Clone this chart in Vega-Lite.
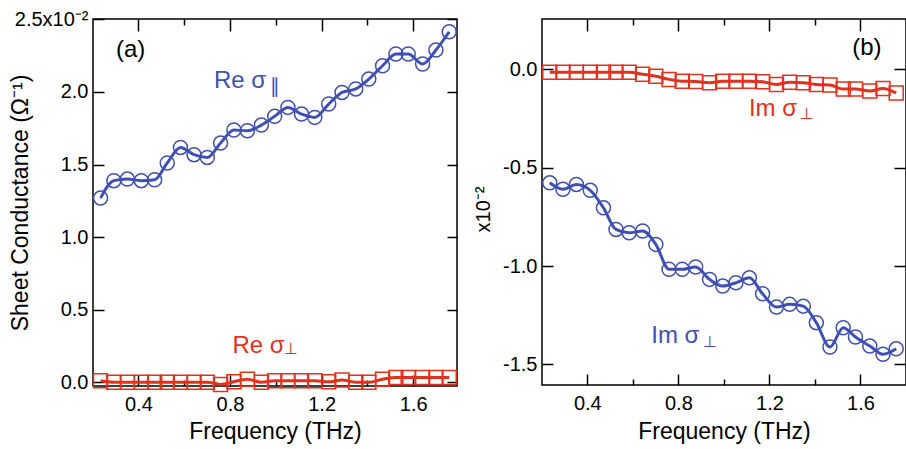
{
  "$schema": "https://vega.github.io/schema/vega-lite/v6.json",
  "background": "white",
  "autosize": {"type": "pad"},
  "padding": {"left": 8, "top": 8, "right": 0, "bottom": 0},
  "bounds": "flush",
  "spacing": 85,
  "config": {
    "view": {"stroke": "black", "strokeWidth": 1.5},
    "axis": {"domain": false, "grid": false, "labelFont": "Liberation Sans", "labelFontSize": 20, "labelColor": "black", "titleFont": "Liberation Sans", "titleFontSize": 23, "titleFontWeight": "normal", "titleColor": "black", "tickColor": "black", "tickWidth": 1.5}
  },
  "datasets": {
    "pts": [
      {"p": "a", "s": "par", "f": 0.235, "v": 1.269},
      {"p": "a", "s": "par", "f": 0.293, "v": 1.389},
      {"p": "a", "s": "par", "f": 0.352, "v": 1.400},
      {"p": "a", "s": "par", "f": 0.413, "v": 1.389},
      {"p": "a", "s": "par", "f": 0.471, "v": 1.395},
      {"p": "a", "s": "par", "f": 0.526, "v": 1.511},
      {"p": "a", "s": "par", "f": 0.584, "v": 1.618},
      {"p": "a", "s": "par", "f": 0.643, "v": 1.568},
      {"p": "a", "s": "par", "f": 0.701, "v": 1.549},
      {"p": "a", "s": "par", "f": 0.759, "v": 1.648},
      {"p": "a", "s": "par", "f": 0.817, "v": 1.738},
      {"p": "a", "s": "par", "f": 0.876, "v": 1.733},
      {"p": "a", "s": "par", "f": 0.937, "v": 1.772},
      {"p": "a", "s": "par", "f": 0.995, "v": 1.832},
      {"p": "a", "s": "par", "f": 1.053, "v": 1.894},
      {"p": "a", "s": "par", "f": 1.112, "v": 1.848},
      {"p": "a", "s": "par", "f": 1.170, "v": 1.825},
      {"p": "a", "s": "par", "f": 1.231, "v": 1.917},
      {"p": "a", "s": "par", "f": 1.289, "v": 1.997},
      {"p": "a", "s": "par", "f": 1.349, "v": 2.021},
      {"p": "a", "s": "par", "f": 1.406, "v": 2.089},
      {"p": "a", "s": "par", "f": 1.466, "v": 2.181},
      {"p": "a", "s": "par", "f": 1.524, "v": 2.262},
      {"p": "a", "s": "par", "f": 1.578, "v": 2.262},
      {"p": "a", "s": "par", "f": 1.641, "v": 2.193},
      {"p": "a", "s": "par", "f": 1.699, "v": 2.289},
      {"p": "a", "s": "par", "f": 1.757, "v": 2.415},
      {"p": "a", "s": "perp", "f": 0.235, "v": 0.010},
      {"p": "a", "s": "perp", "f": 0.293, "v": 0.000},
      {"p": "a", "s": "perp", "f": 0.352, "v": 0.000},
      {"p": "a", "s": "perp", "f": 0.413, "v": 0.000},
      {"p": "a", "s": "perp", "f": 0.471, "v": 0.000},
      {"p": "a", "s": "perp", "f": 0.526, "v": 0.000},
      {"p": "a", "s": "perp", "f": 0.584, "v": 0.000},
      {"p": "a", "s": "perp", "f": 0.643, "v": 0.000},
      {"p": "a", "s": "perp", "f": 0.701, "v": 0.000},
      {"p": "a", "s": "perp", "f": 0.759, "v": -0.015},
      {"p": "a", "s": "perp", "f": 0.817, "v": 0.003},
      {"p": "a", "s": "perp", "f": 0.876, "v": 0.020},
      {"p": "a", "s": "perp", "f": 0.937, "v": 0.000},
      {"p": "a", "s": "perp", "f": 0.995, "v": 0.010},
      {"p": "a", "s": "perp", "f": 1.053, "v": 0.010},
      {"p": "a", "s": "perp", "f": 1.112, "v": 0.010},
      {"p": "a", "s": "perp", "f": 1.170, "v": 0.010},
      {"p": "a", "s": "perp", "f": 1.231, "v": 0.003},
      {"p": "a", "s": "perp", "f": 1.289, "v": 0.015},
      {"p": "a", "s": "perp", "f": 1.349, "v": 0.000},
      {"p": "a", "s": "perp", "f": 1.406, "v": 0.000},
      {"p": "a", "s": "perp", "f": 1.466, "v": 0.020},
      {"p": "a", "s": "perp", "f": 1.524, "v": 0.033},
      {"p": "a", "s": "perp", "f": 1.578, "v": 0.033},
      {"p": "a", "s": "perp", "f": 1.641, "v": 0.033},
      {"p": "a", "s": "perp", "f": 1.699, "v": 0.033},
      {"p": "a", "s": "perp", "f": 1.757, "v": 0.033},
      {"p": "b", "s": "par", "f": 0.235, "v": -0.577},
      {"p": "b", "s": "par", "f": 0.293, "v": -0.610},
      {"p": "b", "s": "par", "f": 0.352, "v": -0.585},
      {"p": "b", "s": "par", "f": 0.413, "v": -0.615},
      {"p": "b", "s": "par", "f": 0.471, "v": -0.704},
      {"p": "b", "s": "par", "f": 0.526, "v": -0.814},
      {"p": "b", "s": "par", "f": 0.584, "v": -0.831},
      {"p": "b", "s": "par", "f": 0.643, "v": -0.822},
      {"p": "b", "s": "par", "f": 0.701, "v": -0.890},
      {"p": "b", "s": "par", "f": 0.759, "v": -1.017},
      {"p": "b", "s": "par", "f": 0.817, "v": -1.017},
      {"p": "b", "s": "par", "f": 0.876, "v": -1.005},
      {"p": "b", "s": "par", "f": 0.937, "v": -1.068},
      {"p": "b", "s": "par", "f": 0.995, "v": -1.102},
      {"p": "b", "s": "par", "f": 1.053, "v": -1.085},
      {"p": "b", "s": "par", "f": 1.112, "v": -1.060},
      {"p": "b", "s": "par", "f": 1.170, "v": -1.141},
      {"p": "b", "s": "par", "f": 1.231, "v": -1.209},
      {"p": "b", "s": "par", "f": 1.289, "v": -1.195},
      {"p": "b", "s": "par", "f": 1.349, "v": -1.204},
      {"p": "b", "s": "par", "f": 1.406, "v": -1.288},
      {"p": "b", "s": "par", "f": 1.466, "v": -1.412},
      {"p": "b", "s": "par", "f": 1.524, "v": -1.314},
      {"p": "b", "s": "par", "f": 1.578, "v": -1.361},
      {"p": "b", "s": "par", "f": 1.641, "v": -1.407},
      {"p": "b", "s": "par", "f": 1.699, "v": -1.449},
      {"p": "b", "s": "par", "f": 1.757, "v": -1.421},
      {"p": "b", "s": "perp", "f": 0.235, "v": -0.015},
      {"p": "b", "s": "perp", "f": 0.293, "v": -0.015},
      {"p": "b", "s": "perp", "f": 0.352, "v": -0.015},
      {"p": "b", "s": "perp", "f": 0.413, "v": -0.015},
      {"p": "b", "s": "perp", "f": 0.471, "v": -0.015},
      {"p": "b", "s": "perp", "f": 0.526, "v": -0.015},
      {"p": "b", "s": "perp", "f": 0.584, "v": -0.015},
      {"p": "b", "s": "perp", "f": 0.643, "v": -0.025},
      {"p": "b", "s": "perp", "f": 0.701, "v": -0.035},
      {"p": "b", "s": "perp", "f": 0.759, "v": -0.051},
      {"p": "b", "s": "perp", "f": 0.817, "v": -0.060},
      {"p": "b", "s": "perp", "f": 0.876, "v": -0.062},
      {"p": "b", "s": "perp", "f": 0.937, "v": -0.068},
      {"p": "b", "s": "perp", "f": 0.995, "v": -0.060},
      {"p": "b", "s": "perp", "f": 1.053, "v": -0.060},
      {"p": "b", "s": "perp", "f": 1.112, "v": -0.060},
      {"p": "b", "s": "perp", "f": 1.170, "v": -0.063},
      {"p": "b", "s": "perp", "f": 1.231, "v": -0.077},
      {"p": "b", "s": "perp", "f": 1.289, "v": -0.065},
      {"p": "b", "s": "perp", "f": 1.349, "v": -0.068},
      {"p": "b", "s": "perp", "f": 1.406, "v": -0.077},
      {"p": "b", "s": "perp", "f": 1.466, "v": -0.080},
      {"p": "b", "s": "perp", "f": 1.524, "v": -0.100},
      {"p": "b", "s": "perp", "f": 1.578, "v": -0.100},
      {"p": "b", "s": "perp", "f": 1.641, "v": -0.110},
      {"p": "b", "s": "perp", "f": 1.699, "v": -0.097},
      {"p": "b", "s": "perp", "f": 1.757, "v": -0.120}
    ],
    "notes": [
      {"p": "a", "k": "main", "s": "lab", "f": 0.302, "v": 2.243, "t": "(a)"},
      {"p": "a", "k": "main", "s": "par", "f": 0.730, "v": 2.027, "t": "Re σ"},
      {"p": "a", "k": "sub", "s": "par", "f": 0.975, "v": 2.036, "t": "∥"},
      {"p": "a", "k": "main", "s": "perp", "f": 0.811, "v": 0.198, "t": "Re σ"},
      {"p": "a", "k": "sub", "s": "perp", "f": 1.036, "v": 0.232, "t": "⊥"},
      {"p": "b", "k": "main", "s": "lab", "f": 1.5636, "v": 0.075, "t": "(b)"},
      {"p": "b", "k": "main", "s": "perp", "f": 1.110, "v": -0.2375, "t": "Im σ"},
      {"p": "b", "k": "sub", "s": "perp", "f": 1.333, "v": -0.228, "t": "⊥"},
      {"p": "b", "k": "main", "s": "par", "f": 0.681, "v": -1.390, "t": "Im σ"},
      {"p": "b", "k": "sub", "s": "par", "f": 0.9085, "v": -1.384, "t": "⊥"}
    ]
  },
  "hconcat": [
    {
      "width": 364,
      "height": 367,
      "layer": [
        {
          "data": {"name": "pts"},
          "transform": [{"filter": "datum.p == 'a'"}],
          "mark": {"type": "line", "strokeWidth": 3, "interpolate": "monotone"},
          "encoding": {
            "x": {"field": "f", "type": "quantitative", "scale": {"domain": [0.202, 1.791], "nice": false, "zero": false},
              "axis": {"orient": "bottom", "values": [0.4, 0.6, 0.8, 1.0, 1.2, 1.4, 1.6], "labelExpr": "round(datum.value*10)%4==0 ? format(datum.value,'.1f') : ''", "tickSize": {"condition": {"test": "round(datum.value*10)%4==0", "value": -11}, "value": -6}, "labelPadding": 19, "title": "Frequency (THz)", "titleBaseline": "alphabetic", "titleY": 52}},
            "y": {"field": "v", "type": "quantitative", "scale": {"domain": [-0.026, 2.503], "nice": false, "zero": false},
              "axis": {"orient": "left", "values": [0, 0.5, 1, 1.5, 2, 2.5], "labelExpr": "datum.value == 2.5 ? '2.5x10⁻²' : format(datum.value,'.1f')", "tickSize": -11, "labelPadding": 16, "title": "Sheet Conductance (Ω⁻¹)", "titleBaseline": "alphabetic", "titleX": -66}},
            "color": {"field": "s", "type": "nominal", "scale": {"domain": ["par", "perp", "lab"], "range": ["#3f4fb3", "#e2311d", "black"]}, "legend": null},
            "detail": {"field": "s"}
          }
        },
        {
          "data": {"name": "pts"},
          "transform": [{"filter": "datum.p == 'a'"}],
          "mark": {"type": "point", "filled": false, "strokeWidth": 1.5, "size": 196, "opacity": 1},
          "encoding": {
            "x": {"field": "f", "type": "quantitative", "scale": {"domain": [0.202, 1.791], "nice": false, "zero": false},
              "axis": {"orient": "top", "values": [0.4, 0.6, 0.8, 1.0, 1.2, 1.4, 1.6], "labels": false, "title": null, "tickSize": {"condition": {"test": "round(datum.value*10)%4==0", "value": -12}, "value": -6}}},
            "y": {"field": "v", "type": "quantitative", "scale": {"domain": [-0.026, 2.503], "nice": false, "zero": false},
              "axis": {"orient": "right", "values": [0, 0.5, 1, 1.5, 2, 2.5], "labels": false, "title": null, "tickSize": -10}},
            "color": {"field": "s", "type": "nominal", "legend": null},
            "shape": {"field": "s", "type": "nominal", "scale": {"domain": ["par", "perp"], "range": ["circle", "square"]}, "legend": null}
          }
        },
        {
          "data": {"name": "notes"},
          "transform": [{"filter": "datum.p == 'a' && datum.k == 'main'"}],
          "mark": {"type": "text", "font": "Liberation Sans", "fontSize": 24, "align": "left", "baseline": "alphabetic"},
          "encoding": {
            "x": {"field": "f", "type": "quantitative", "axis": null},
            "y": {"field": "v", "type": "quantitative", "axis": null},
            "text": {"field": "t"},
            "color": {"field": "s", "type": "nominal", "legend": null}
          }
        },
        {
          "data": {"name": "notes"},
          "transform": [{"filter": "datum.p == 'a' && datum.k == 'sub'"}],
          "mark": {"type": "text", "font": "DejaVu Sans", "align": "left", "baseline": "middle"},
          "encoding": {
            "x": {"field": "f", "type": "quantitative", "axis": null},
            "y": {"field": "v", "type": "quantitative", "axis": null},
            "text": {"field": "t"},
            "size": {"condition": {"test": "datum.t == '∥'", "value": 20}, "value": 16},
            "color": {"field": "s", "type": "nominal", "legend": null}
          }
        }
      ],
      "resolve": {"axis": {"x": "independent", "y": "independent"}}
    },
    {
      "width": 364,
      "height": 366,
      "layer": [
        {
          "data": {"name": "pts"},
          "transform": [{"filter": "datum.p == 'b'"}],
          "mark": {"type": "line", "strokeWidth": 3, "interpolate": "monotone"},
          "encoding": {
            "x": {"field": "f", "type": "quantitative", "scale": {"domain": [0.201, 1.8], "nice": false, "zero": false},
              "axis": {"orient": "bottom", "values": [0.4, 0.6, 0.8, 1.0, 1.2, 1.4, 1.6], "labelExpr": "round(datum.value*10)%4==0 ? format(datum.value,'.1f') : ''", "tickSize": {"condition": {"test": "round(datum.value*10)%4==0", "value": -11}, "value": -6}, "labelPadding": 19, "title": "Frequency (THz)", "titleBaseline": "alphabetic", "titleY": 53}},
            "y": {"field": "v", "type": "quantitative", "scale": {"domain": [-1.605, 0.256], "nice": false, "zero": false},
              "axis": {"orient": "left", "values": [0, -0.5, -1, -1.5], "labelExpr": "(datum.value < 0 ? '-' : '') + format(abs(datum.value),'.1f')", "tickSize": -11, "labelPadding": 16, "title": "x10⁻²", "titleFontSize": 20, "titleBaseline": "alphabetic", "titleX": -53, "titleY": 190}},
            "color": {"field": "s", "type": "nominal", "scale": {"domain": ["par", "perp", "lab"], "range": ["#3f4fb3", "#e2311d", "black"]}, "legend": null},
            "detail": {"field": "s"}
          }
        },
        {
          "data": {"name": "pts"},
          "transform": [{"filter": "datum.p == 'b'"}],
          "mark": {"type": "point", "filled": false, "strokeWidth": 1.5, "size": 196, "opacity": 1},
          "encoding": {
            "x": {"field": "f", "type": "quantitative", "scale": {"domain": [0.201, 1.8], "nice": false, "zero": false},
              "axis": {"orient": "top", "values": [0.4, 0.6, 0.8, 1.0, 1.2, 1.4, 1.6], "labels": false, "title": null, "tickSize": {"condition": {"test": "round(datum.value*10)%4==0", "value": -12}, "value": -6}}},
            "y": {"field": "v", "type": "quantitative", "scale": {"domain": [-1.605, 0.256], "nice": false, "zero": false},
              "axis": {"orient": "right", "values": [0, -0.5, -1, -1.5], "labels": false, "title": null, "tickSize": -12}},
            "color": {"field": "s", "type": "nominal", "legend": null},
            "shape": {"field": "s", "type": "nominal", "scale": {"domain": ["par", "perp"], "range": ["circle", "square"]}, "legend": null}
          }
        },
        {
          "data": {"name": "notes"},
          "transform": [{"filter": "datum.p == 'b' && datum.k == 'main'"}],
          "mark": {"type": "text", "font": "Liberation Sans", "fontSize": 24, "align": "left", "baseline": "alphabetic"},
          "encoding": {
            "x": {"field": "f", "type": "quantitative", "axis": null},
            "y": {"field": "v", "type": "quantitative", "axis": null},
            "text": {"field": "t"},
            "color": {"field": "s", "type": "nominal", "legend": null}
          }
        },
        {
          "data": {"name": "notes"},
          "transform": [{"filter": "datum.p == 'b' && datum.k == 'sub'"}],
          "mark": {"type": "text", "font": "DejaVu Sans", "align": "left", "baseline": "middle"},
          "encoding": {
            "x": {"field": "f", "type": "quantitative", "axis": null},
            "y": {"field": "v", "type": "quantitative", "axis": null},
            "text": {"field": "t"},
            "size": {"condition": {"test": "datum.t == '∥'", "value": 20}, "value": 16},
            "color": {"field": "s", "type": "nominal", "legend": null}
          }
        }
      ],
      "resolve": {"axis": {"x": "independent", "y": "independent"}}
    }
  ]
}
